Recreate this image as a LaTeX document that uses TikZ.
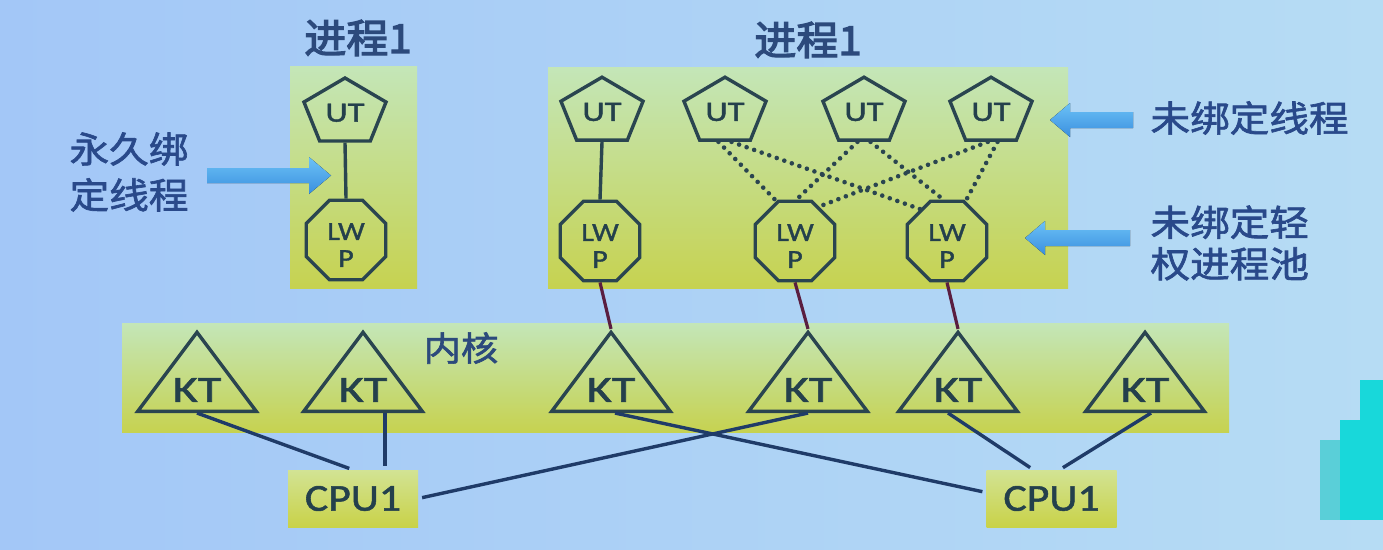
\documentclass[tikz,border=0pt]{standalone}
\usepackage{fontspec}
\setmainfont{Carlito}
\newfontfamily\latn{Carlito}[FakeBold=1.4]
\newfontfamily\lats{Carlito}[FakeStretch=1.15,FakeBold=1.4]
\newfontfamily\cjk{Noto Sans CJK SC}[FakeStretch=1.1,FakeBold=1.8]
\newfontfamily\cjkb{Noto Sans CJK SC}[FakeStretch=1.05,FakeBold=3.2]
\usetikzlibrary{shapes.geometric}
\definecolor{bgL}{HTML}{A3C7F7}
\definecolor{bgR}{HTML}{B6DCF4}
\definecolor{gtop}{HTML}{C4E6B8}
\definecolor{gbot}{HTML}{C6D250}
\definecolor{ctop}{HTML}{D2E394}
\definecolor{cbot}{HTML}{C9D248}
\definecolor{strk}{HTML}{2A4550}
\definecolor{ntext}{HTML}{24404C}
\definecolor{navy}{HTML}{1F3B68}
\definecolor{maroon}{HTML}{5A1E40}
\definecolor{ttl}{HTML}{2C4A7C}
\definecolor{lbl}{HTML}{29498A}
\definecolor{arrT}{HTML}{6CC2F6}
\definecolor{arrB}{HTML}{3A8FDF}
\definecolor{cyanwm}{HTML}{18D8DA}
\definecolor{cyanlt}{HTML}{5ACFD8}
\tikzset{
  ut/.style={regular polygon, regular polygon sides=5, minimum size=69.6pt, inner sep=0pt,
    draw=strk, line width=3.4pt, xscale=1.24, transform shape, text=ntext,
    font=\latn\fontsize{28}{30}\selectfont},
  lwp/.style={regular polygon, regular polygon sides=8, minimum size=86pt, inner sep=0pt,
    draw=strk, line width=3.4pt, text=ntext, font=\lats\fontsize{26}{27}\selectfont},
  kt/.style={regular polygon, regular polygon sides=3, minimum size=96pt, inner sep=0pt,
    draw=strk, line width=3.4pt, xscale=1.3, transform shape, text=ntext,
    font=\latn\fontsize{37}{40}\selectfont},
  cpu/.style={minimum width=130pt, minimum height=57pt, inner sep=0pt,
    top color=ctop, bottom color=cbot, text=ntext, font=\lats\fontsize{38}{42}\selectfont},
  gbox/.style={top color=gtop, bottom color=gbot},
  solidln/.style={draw=strk, line width=3.4pt},
  dotln/.style={draw=strk, line width=4.6pt, line cap=round, dash pattern=on 0pt off 8pt},
  redln/.style={draw=maroon, line width=3.2pt},
  cpuln/.style={draw=navy, line width=3.4pt},
  ttlfont/.style={font=\cjkb\fontsize{40}{44}\selectfont, text=ttl},
  lblfont/.style={font=\cjk\fontsize{36}{46}\selectfont, text=lbl, align=left},
  arrowfill/.style={top color=arrT, bottom color=arrB},
}
\newcommand{\lwptext}{\raisebox{-8pt}[\height][\depth]{\begin{tabular}{@{}c@{}}LW\\P\end{tabular}}}
\newcommand{\kttext}{\raisebox{-5pt}[\height][\depth]{KT}}
\begin{document}
\begin{tikzpicture}[x=1pt,y=-1pt]
\useasboundingbox (0,0) rectangle (1383,549);
\fill[left color=bgL, right color=bgR] (0,0) rectangle (1383,549);
% watermark blocks
\fill[cyanlt] (1320,440) rectangle (1340,520);
\fill[cyanwm] (1340,420) rectangle (1383,520);
\fill[cyanwm] (1360,380) rectangle (1383,420);

% containers
\fill[gbox] (290,66) rectangle (417,288);
\fill[gbox] (548,67) rectangle (1068,288);
\fill[gbox] (122,323) rectangle (1229,432);

% titles
\node[ttlfont] (t1) at (358,38) {进程1};
\node[ttlfont] (t2) at (808,40) {进程1};
\node[font=\cjk\fontsize{34}{38}\selectfont, text=ttl] (kern) at (461,348) {内核};

% UT nodes
\node[shift={(345,112.8)}, ut] (u0) {UT};
\node[shift={(602,112)}, ut] (u1) {UT};
\node[shift={(725,112)}, ut] (u2) {UT};
\node[shift={(864,112)}, ut] (u3) {UT};
\node[shift={(991,112)}, ut] (u4) {UT};

% LWP nodes
\node[lwp] (l0) at (346,240) {\lwptext};
\node[lwp] (l1) at (600,241) {\lwptext};
\node[lwp] (l2) at (795,241) {\lwptext};
\node[lwp] (l3) at (947,241) {\lwptext};

% KT nodes
\node[shift={(197,385)}, kt] (k1) {\kttext};
\node[shift={(363,385)}, kt] (k2) {\kttext};
\node[shift={(611,385)}, kt] (k3) {\kttext};
\node[shift={(808,385)}, kt] (k4) {\kttext};
\node[shift={(958,385)}, kt] (k5) {\kttext};
\node[shift={(1145,385)}, kt] (k6) {\kttext};

% CPU nodes
\node[cpu] (cpuL) at (353,498.5) {CPU1};
\node[cpu] (cpuR) at (1051.5,498.5) {CPU1};

% UT - LWP
\draw[solidln] (u0.south) -- (l0.north);
\draw[solidln] (u1.south) -- (l1.north);
\draw[dotln] (u2.-100) -- (l2.115);
\draw[dotln] (u2.-80) -- (l3.130);
\draw[dotln] (u3.-100) -- (l2.88);
\draw[dotln] (u3.-80) -- (l3.95);
\draw[dotln] (u4.-95) -- (l2.55);
\draw[dotln] (u4.-80) -- (l3.65);

% LWP - KT
\draw[redln] (l1.south) -- (k3.north);
\draw[redln] (l2.south) -- (k4.north);
\draw[redln] (l3.south) -- (k5.north);

% KT - CPU
\draw[cpuln, shorten >=4pt] (k1.south) -- (cpuL.north);
\draw[cpuln, shorten <=4pt] ([xshift=32pt]cpuL.north) -- ([xshift=32pt]cpuL.north |- k2.south);
\draw[cpuln, shorten >=4pt] ([xshift=4pt]k3.south) -- ([yshift=6pt]cpuR.west);
\draw[cpuln, shorten <=4pt] (cpuL.east) -- (k4.south);
\draw[cpuln, shorten >=4pt] ([xshift=-10pt]k5.south) -- ([xshift=-18pt]cpuR.north);
\draw[cpuln, shorten >=4pt] ([xshift=6pt]k6.south) -- ([xshift=8pt]cpuR.north);

% side labels
\node[lblfont] (lab1) at (129,172) {永久绑\\定线程};
\node[lblfont, anchor=west] (lab2) at (1147,118) {未绑定线程};
\node[lblfont, anchor=west, font=\cjk\fontsize{36}{41.5}\selectfont] (lab3) at (1147,243) {未绑定轻\\权进程池};

% block arrows
\fill[arrowfill] (207,168) -- (309,168) -- (309,157) -- (331,175.5) -- (309,194) -- (309,183) -- (207,183) -- cycle;
\fill[arrowfill] (1133,112) -- (1070,112) -- (1070,103) -- (1050,120) -- (1070,137) -- (1070,128) -- (1133,128) -- cycle;
\fill[arrowfill] (1130,230) -- (1045,230) -- (1045,221) -- (1025,238) -- (1045,255) -- (1045,246) -- (1130,246) -- cycle;
\end{tikzpicture}
\end{document}
